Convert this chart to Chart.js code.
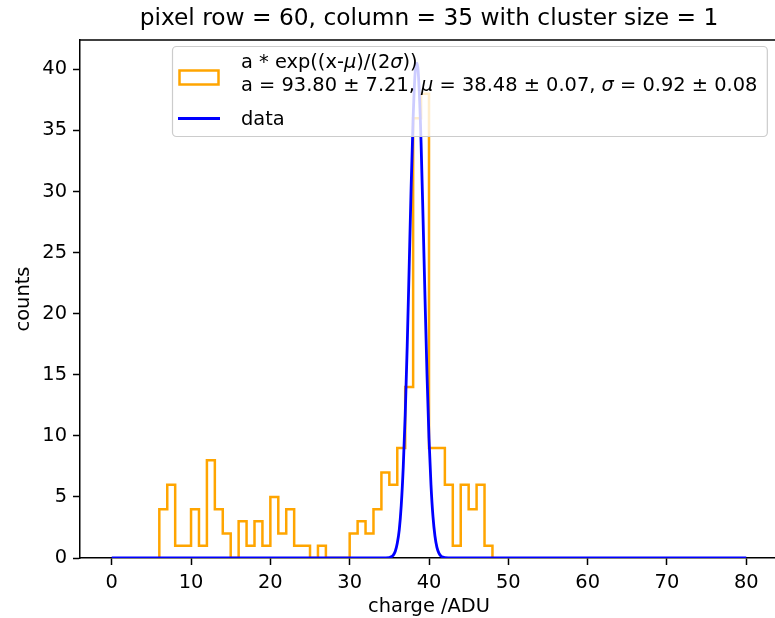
<!DOCTYPE html>
<html><head><meta charset="utf-8">
<script src="https://cdn.jsdelivr.net/npm/chart.js@4.4.0/dist/chart.umd.min.js"></script>
<style>
html,body{margin:0;padding:0;background:#fff;overflow:hidden;}
#wrap{width:775px;height:618px;overflow:hidden;position:relative;background:#fff;}
canvas{display:block;}
</style></head><body>
<div id="wrap"><canvas id="c" width="800" height="618"></canvas></div>
<script>
const titleText = "pixel row = 60, column = 35 with cluster size = 1";
const xLabel = "charge /ADU";
const yLabel = "counts";
const xTicks = [0, 10, 20, 30, 40, 50, 60, 70, 80];
const yTicks = [0, 5, 10, 15, 20, 25, 30, 35, 40];

// histogram bin edges (ADU) and counts per bin
const binEdges = [6,7,8,9,10,11,12,13,14,15,16,17,18,19,20,21,22,23,24,25,26,27,28,29,30,31,32,33,34,35,36,37,38,39,40,41,42,43,44,45,46,47,48];
const counts   = [4,6,1,1,4,1,8,4,2,0,3,1,3,1,5,2,4,1,1,0,1,0,0,0,2,3,2,4,7,6,9,14,36,38,9,9,6,1,6,4,6,1];

// fitted curve
const fitX = [0, 34, 35, 35.25, 35.5, 35.75, 36, 36.25, 36.5, 36.75, 37, 37.25, 37.5, 37.75, 38, 38.25, 38.5, 38.75, 39, 39.25, 39.5, 39.75, 40, 40.25, 40.5, 40.75, 41, 41.25, 41.5, 41.75, 42, 43, 80];
const fitY = [0, 0, 0.04, 0.1, 0.24, 0.55, 1.2, 2.3, 4.3, 7.4, 11.7, 17.3, 23.8, 30.4, 36.0, 39.7, 40.5, 38.5, 34.0, 27.8, 21.2, 15.0, 9.8, 6.0, 3.4, 1.8, 0.87, 0.4, 0.17, 0.07, 0.02, 0, 0];

// legend text (segments: [text, italic])
const legendHistLine1 = [["a * exp((x-", false], ["\u03bc", true], [")/(2", false], ["\u03c3", true], ["))", false]];
const legendHistLine2 = [["a = 93.80 \u00b1 7.21, ", false], ["\u03bc", true], [" = 38.48 \u00b1 0.07, ", false], ["\u03c3", true], [" = 0.92 \u00b1 0.08", false]];
const legendCurve = "data";

const FONT = '"DejaVu Sans", "Liberation Sans", sans-serif';
const TICKFS = 19.4;

function segWidth(ctx, segs, size) {
  let w = 0;
  for (const [t, it] of segs) { ctx.font = (it ? 'italic ' : '') + size + 'px ' + FONT; w += ctx.measureText(t).width; }
  return w;
}
function drawSegs(ctx, segs, x, y, size) {
  for (const [t, it] of segs) {
    ctx.font = (it ? 'italic ' : '') + size + 'px ' + FONT;
    ctx.fillText(t, x, y);
    x += ctx.measureText(t).width;
  }
}

const decor = {
  id: 'decor',
  afterDraw(chart) {
    const ctx = chart.ctx;
    const a = chart.chartArea;
    ctx.save();
    // top spine
    ctx.strokeStyle = '#000'; ctx.lineWidth = 1.5;
    ctx.beginPath();
    ctx.moveTo(a.left, a.top); ctx.lineTo(a.right + 5, a.top);
    ctx.stroke();
    // title
    ctx.fillStyle = '#000';
    ctx.textAlign = 'center'; ctx.textBaseline = 'alphabetic';
    ctx.font = '23.3px ' + FONT;
    ctx.fillText(titleText, (a.left + a.right) / 2, 25);
    // x label
    ctx.font = TICKFS + 'px ' + FONT;
    ctx.fillText(xLabel, (a.left + a.right) / 2, 612);
    // y label
    ctx.save();
    ctx.translate(29, (a.top + a.bottom) / 2);
    ctx.rotate(-Math.PI / 2);
    ctx.fillText(yLabel, 0, 0);
    ctx.restore();

    // legend
    const bx = 172.5, by = 46.5, textX = 241;
    const w = Math.max(segWidth(ctx, legendHistLine1, TICKFS), segWidth(ctx, legendHistLine2, TICKFS));
    const bw = textX + w + 10 - bx, bh = 90;
    ctx.beginPath();
    ctx.roundRect(bx, by, bw, bh, 4);
    ctx.fillStyle = 'rgba(255,255,255,0.8)';
    ctx.fill();
    ctx.strokeStyle = '#cccccc'; ctx.lineWidth = 1.2;
    ctx.stroke();
    // hist handle
    ctx.strokeStyle = '#ffa500'; ctx.lineWidth = 2.5;
    ctx.strokeRect(179.5, 70.5, 39, 14);
    // curve handle
    ctx.strokeStyle = '#0000ff'; ctx.lineWidth = 2.8;
    ctx.beginPath(); ctx.moveTo(178, 118.5); ctx.lineTo(220, 118.5); ctx.stroke();
    // texts
    ctx.fillStyle = '#000'; ctx.textAlign = 'left'; ctx.textBaseline = 'alphabetic';
    drawSegs(ctx, legendHistLine1, textX, 68, TICKFS);
    drawSegs(ctx, legendHistLine2, textX, 91, TICKFS);
    ctx.font = TICKFS + 'px ' + FONT;
    ctx.fillText(legendCurve, textX, 125);
    ctx.restore();
  }
};

const histPoints = [{x: binEdges[0], y: 0}]
  .concat(counts.map((c, i) => ({x: binEdges[i], y: c})))
  .concat([{x: binEdges[binEdges.length - 1], y: 0}]);
const fitPoints = fitX.map((x, i) => ({x: x, y: fitY[i]}));

const axisCommon = {
  grid: {drawOnChartArea: false, drawTicks: true, tickLength: 7, color: '#000', tickColor: '#000', tickWidth: 1.5},
  border: {display: true, color: '#000', width: 1.5},
  ticks: {color: '#000', font: {family: FONT, size: TICKFS}, padding: 6, maxRotation: 0, autoSkip: false}
};

new Chart(document.getElementById('c'), {
  type: 'line',
  data: {
    datasets: [
      {label: legendCurve, data: fitPoints, borderColor: '#0000ff', borderWidth: 2.8, pointRadius: 0, fill: false, cubicInterpolationMode: 'monotone'},
      {label: 'hist', data: histPoints, borderColor: '#ffa500', borderWidth: 2.5, pointRadius: 0, fill: false, stepped: 'before', tension: 0}
    ]
  },
  options: {
    responsive: false, animation: false, devicePixelRatio: 1,
    layout: {padding: {left: 0, top: 40, right: 22, bottom: 0}},
    plugins: {legend: {display: false}, tooltip: {enabled: false}, title: {display: false}},
    scales: {
      x: Object.assign({}, axisCommon, {
        type: 'linear', min: -4, max: 84,
        afterBuildTicks: s => { s.ticks = xTicks.map(v => ({value: v})); },
        afterFit: s => { s.height = 60; }
      }),
      y: Object.assign({}, axisCommon, {
        type: 'linear', min: 0, max: 42.4,
        afterBuildTicks: s => { s.ticks = yTicks.map(v => ({value: v})); },
        afterFit: s => { s.width = 80; }
      })
    }
  },
  plugins: [decor]
});
</script>
</body></html>
